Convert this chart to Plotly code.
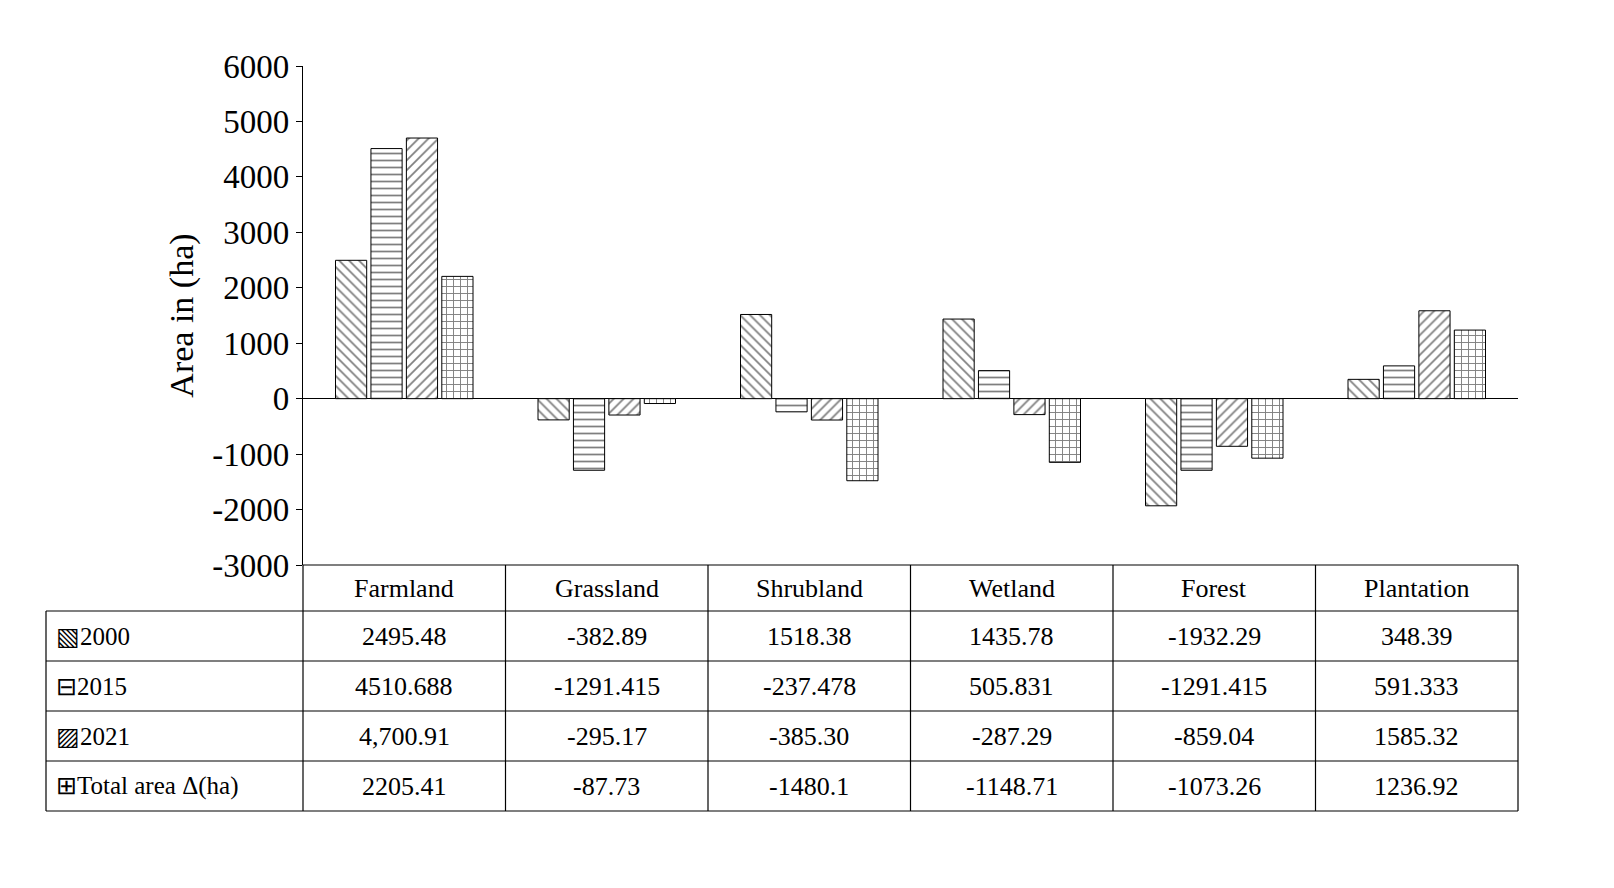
import plotly.graph_objects as go

categories = ['Farmland', 'Grassland', 'Shrubland', 'Wetland', 'Forest', 'Plantation']
series_names = ['2000', '2015', '2021', 'Total area Δ(ha)']
v2000 = [2495.48, -382.89, 1518.38, 1435.78, -1932.29, 348.39]
v2015 = [4510.688, -1291.415, -237.478, 505.831, -1291.415, 591.333]
v2021 = [4700.91, -295.17, -385.30, -287.29, -859.04, 1585.32]
vtotal = [2205.41, -87.73, -1480.1, -1148.71, -1073.26, 1236.92]
labels2000 = ['2495.48', '-382.89', '1518.38', '1435.78', '-1932.29', '348.39']
labels2015 = ['4510.688', '-1291.415', '-237.478', '505.831', '-1291.415', '591.333']
labels2021 = ['4,700.91', '-295.17', '-385.30', '-287.29', '-859.04', '1585.32']
labelstotal = ['2205.41', '-87.73', '-1480.1', '-1148.71', '-1073.26', '1236.92']
legend_marks = ['▧', '⊟', '▨', '⊞']
y_ticks = [6000, 5000, 4000, 3000, 2000, 1000, 0, -1000, -2000, -3000]
y_ticktext = ['6000', '5000', '4000', '3000', '2000', '1000', '0', '-1000', '-2000', '-3000']

FONT = 'Liberation Serif'
patterns = ['\\', '-', '/', '+']
all_vals = [v2000, v2015, v2021, vtotal]
all_labels = [labels2000, labels2015, labels2021, labelstotal]

fig = go.Figure()
for name, vals, pat in zip(series_names, all_vals, patterns):
    fig.add_bar(x=categories, y=vals, name=name,
                marker=dict(color='white', line=dict(color='black', width=1),
                            pattern=dict(shape=pat, fgcolor='black', size=7, solidity=0.25)))

W, T, B, L, R = 1614, 58, 557, 295, 1510
ph = B - T
pw = R - L
def py(p):
    return (B - p) / ph
def px_(p):
    return (p - L) / pw

shapes = []
row_edges = [557, 603, 653, 703, 753, 803]
left = px_(38)
for i, r in enumerate(row_edges):
    x0 = 0 if i == 0 else left
    shapes.append(dict(type='line', xref='paper', yref='paper', x0=x0, x1=1,
                       y0=py(r), y1=py(r), line=dict(color='black', width=1.2)))
for k in range(7):
    shapes.append(dict(type='line', xref='paper', yref='paper', x0=k / 6, x1=k / 6,
                       y0=py(557), y1=py(803), line=dict(color='black', width=1.2)))
shapes.append(dict(type='line', xref='paper', yref='paper', x0=left, x1=left,
                   y0=py(603), y1=py(803), line=dict(color='black', width=1.2)))

ann = []
for k, c in enumerate(categories):
    ann.append(dict(x=(k + 0.5) / 6, y=py(580), xref='paper', yref='paper', text=c,
                    xanchor='center', yanchor='middle', showarrow=False,
                    font=dict(family=FONT, size=26, color='black')))
for i in range(4):
    yc = py((row_edges[i + 1] + row_edges[i + 2]) / 2)
    ann.append(dict(x=px_(46), y=yc, xref='paper', yref='paper', xanchor='left',
                    yanchor='middle', text=legend_marks[i] + series_names[i], showarrow=False,
                    font=dict(family=FONT, size=25, color='black')))
    for k in range(6):
        ann.append(dict(x=(k + 0.5) / 6, y=yc, xref='paper', yref='paper',
                        xanchor='center', yanchor='middle',
                        text=all_labels[i][k], showarrow=False,
                        font=dict(family=FONT, size=26, color='black')))

fig.update_layout(
    width=W, height=888, plot_bgcolor='white', paper_bgcolor='white',
    margin=dict(l=L, r=W - R, t=T, b=888 - B),
    barmode='group', bargap=0.3, bargroupgap=0.12, showlegend=False,
    font=dict(family=FONT, color='black'),
    shapes=shapes, annotations=ann,
    xaxis=dict(showticklabels=False, showgrid=False, showline=False, zeroline=False),
    yaxis=dict(range=[-3000, 6000], tickvals=y_ticks, ticktext=y_ticktext, showgrid=False,
               showline=True, linecolor='black', linewidth=1.2, ticks='outside', ticklen=6,
               tickcolor='black', zeroline=True, zerolinecolor='black', zerolinewidth=1.2,
               tickfont=dict(family=FONT, size=33, color='black'),
               title=dict(text='Area in (ha)', font=dict(family=FONT, size=34, color='black'),
                          standoff=8)),
)
fig.write_html('out.html')
